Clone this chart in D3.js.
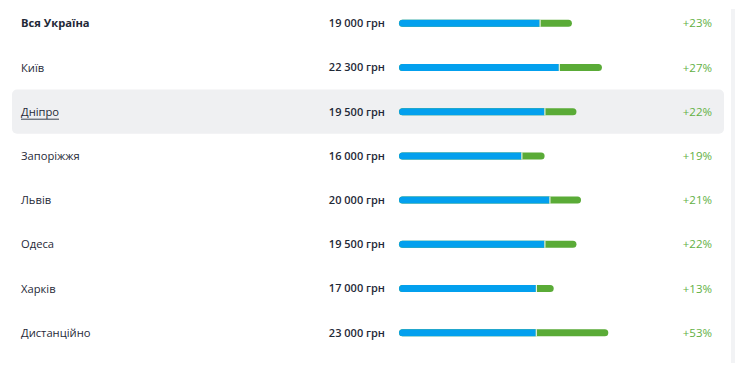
<!DOCTYPE html>
<html>
<head>
<meta charset="utf-8">
<script src="https://cdn.jsdelivr.net/npm/d3@7"></script>
<style>
  body { margin: 0; background: #fff; }
  svg { display: block; font-family: "Open Sans", "Noto Sans", sans-serif; }
</style>
</head>
<body>
<div id="graph"></div>
<script>
var cities = ["Вся Україна", "Київ", "Дніпро", "Запоріжжя", "Львів", "Одеса", "Харків", "Дистанційно"];
var salaries = [19000, 22300, 19500, 16000, 20000, 19500, 17000, 23000];
// previous salary level (blue part of the bar)
var previous = [15450, 17560, 15980, 13450, 16530, 15980, 15040, 15030];
var growth = [23, 27, 22, 19, 21, 22, 13, 53];
var highlighted = "Дніпро";

var width = 740;
var height = 373;

var data = cities.map(function(c, i) {
  return { city: c, salary: salaries[i], prev: previous[i], growth: growth[i] };
});

var svg = d3.select("#graph").append("svg")
    .attr("width", width)
    .attr("height", height);

var y = d3.scaleBand()
    .domain(cities)
    .range([1.2, 1.2 + 44.2 * cities.length]);

var x = d3.scaleLinear()
    .domain([0, 25000])
    .range([399, 626.5]);

var fmt = function(v) { return d3.format(",")(v).replace(",", " ") + " грн"; };

// faint scrollbar strip on the right
svg.append("rect")
    .attr("x", 731).attr("y", 9)
    .attr("width", 4).attr("height", 354)
    .attr("fill", "#f2f3f5");

svg.append("rect")
    .attr("x", 12).attr("y", y(highlighted))
    .attr("width", 712).attr("height", y.bandwidth())
    .attr("rx", 5)
    .attr("fill", "#eff0f2");

var row = svg.selectAll(".row")
    .data(data)
  .enter().append("g")
    .attr("class", "row")
    .attr("transform", function(d) { return "translate(0," + (y(d.city) + y.bandwidth() / 2) + ")"; });

row.append("text")
    .attr("x", 21)
    .attr("dy", "0.36em")
    .style("font-size", "11.2px")
    .style("font-weight", function(d, i) { return i == 0 ? 700 : 400; })
    .style("fill", "#1f2937")
    .text(function(d) { return d.city; });

// underline for the hovered city
row.filter(function(d) { return d.city == highlighted; })
  .append("line")
    .attr("x1", 21).attr("x2", 59)
    .attr("y1", 7.5).attr("y2", 7.5)
    .attr("stroke", "#3a4350")
    .attr("stroke-width", 1);

row.append("text")
    .attr("x", 385)
    .attr("dy", "0.36em")
    .attr("text-anchor", "end")
    .style("font-size", "11px")
    .style("font-weight", 600)
    .style("fill", "#1f2937")
    .text(function(d) { return fmt(d.salary); });

var bh = 7;
row.append("rect")
    .attr("x", x(0))
    .attr("y", -bh / 2)
    .attr("width", function(d) { return x(d.salary) - x(0); })
    .attr("height", bh)
    .attr("rx", bh / 2)
    .attr("fill", "#5aab37");

row.append("path")
    .attr("d", function(d) {
      var x0 = x(0), x1 = x(d.prev), r = bh / 2;
      return "M" + (x0 + r) + "," + (-r) + "H" + x1 + "V" + r + "H" + (x0 + r) +
        "A" + r + "," + r + " 0 0 1 " + (x0 + r) + "," + (-r) + "Z";
    })
    .attr("fill", "#03a0ee");

row.append("line")
    .attr("x1", function(d) { return x(d.prev) + 0.5; })
    .attr("x2", function(d) { return x(d.prev) + 0.5; })
    .attr("y1", -bh / 2).attr("y2", bh / 2)
    .attr("stroke", "#fff")
    .attr("stroke-width", 1);

row.append("text")
    .attr("x", 712)
    .attr("dy", "0.36em")
    .attr("text-anchor", "end")
    .style("font-size", "11.5px")
    .style("fill", "#62b044")
    .text(function(d) { return "+" + d.growth + "%"; });
</script>
</body>
</html>
